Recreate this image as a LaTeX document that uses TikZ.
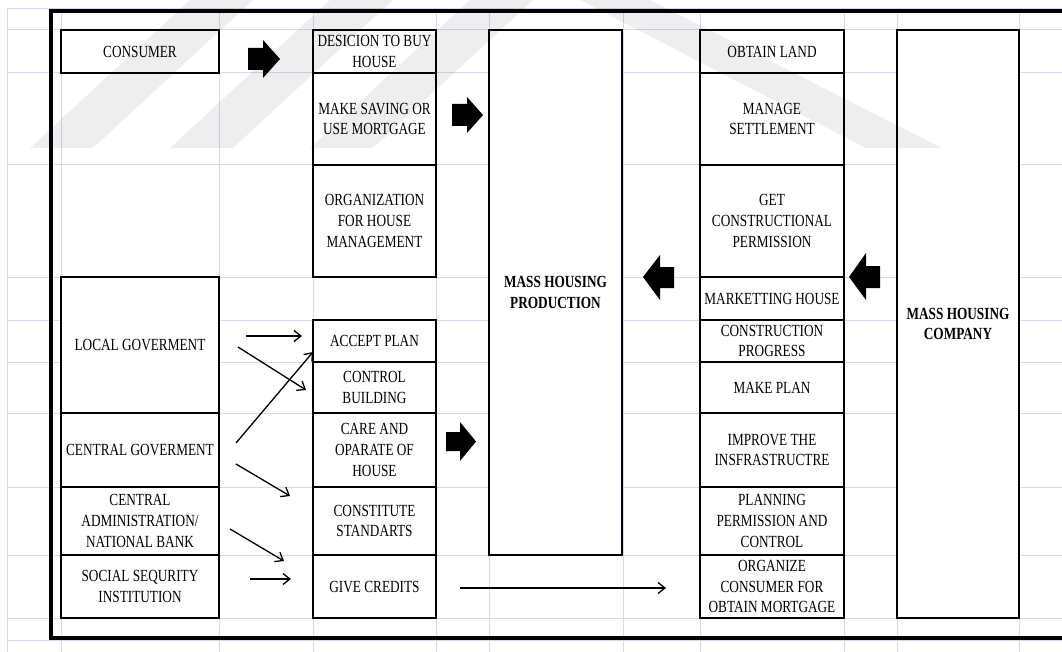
\documentclass[tikz,border=0pt]{standalone}
\usepackage{fontspec}
\setmainfont{Liberation Serif}[FakeStretch=0.78]
\usetikzlibrary{arrows.meta}
\definecolor{gridc}{RGB}{212,219,234}
\begin{document}
\begin{tikzpicture}[x=1pt,y=-1pt,
  box/.style={draw, line width=2pt, fill=white, align=center, inner sep=2pt,
    font=\fontsize{17}{20.7}\selectfont},
  bigbox/.style={box, font=\fontsize{17}{20.7}\selectfont\bfseries},
  gridline/.style={draw=gridc, line width=1pt},
  thinarrow/.style={line width=1.3pt, -{Straight Barb[length=7pt,width=11pt]}},
  framestyle/.style={line width=3.5pt},
  blk/.style={fill=black},
  wm/.style={fill=black, fill opacity=0.065}]

\useasboundingbox (0,0) rectangle (1062,652);
\fill[white] (0,0) rectangle (1062,652);

% spreadsheet grid
\foreach \x in {7,61,219,313,436,489,623,700,844,897,1019}
  \draw[gridline] (\x,9) -- (\x,652);
\foreach \y in {9,30,73,165,277,320,362,413,487,555,618,640}
  \draw[gridline] (7,\y) -- (1062,\y);

% frame
\draw[framestyle] (1062,11) -- (51,11) -- (51,638) -- (1062,638);

% left column
\node[box, minimum width=158pt, minimum height=43pt]  (consumer) at (140,51.5) {CONSUMER};
\node[box, minimum width=158pt, minimum height=136pt] (localgov) at (140,345) {LOCAL GOVERMENT};
\node[box, minimum width=158pt, minimum height=74pt]  (centralgov) at (140,450) {CENTRAL GOVERMENT};
\node[box, minimum width=158pt, minimum height=68pt]  (centraladm) at (140,521) {CENTRAL\\ADMINISTRATION/\\NATIONAL BANK};
\node[box, minimum width=158pt, minimum height=63pt]  (social) at (140,586.5) {SOCIAL SEQURITY\\INSTITUTION};

% middle column
\node[box, minimum width=123pt, minimum height=43pt]  (decision) at (374.5,51.5) {DESICION TO BUY\\HOUSE};
\node[box, minimum width=123pt, minimum height=92pt]  (saving) at (374.5,119) {MAKE SAVING OR\\USE MORTGAGE};
\node[box, minimum width=123pt, minimum height=112pt] (organization) at (374.5,221) {ORGANIZATION\\FOR HOUSE\\MANAGEMENT};
\node[box, minimum width=123pt, minimum height=42pt]  (accept) at (374.5,341) {ACCEPT PLAN};
\node[box, minimum width=123pt, minimum height=51pt]  (control) at (374.5,387.5) {CONTROL\\BUILDING};
\node[box, minimum width=123pt, minimum height=74pt]  (care) at (374.5,450) {CARE AND\\OPARATE OF\\HOUSE};
\node[box, minimum width=123pt, minimum height=68pt]  (constitute) at (374.5,521) {CONSTITUTE\\STANDARTS};
\node[box, minimum width=123pt, minimum height=63pt]  (credits) at (374.5,586.5) {GIVE CREDITS};

% production
\node[bigbox, minimum width=133pt, minimum height=525pt] (production) at (555.5,292.5) {MASS HOUSING\\PRODUCTION};

% right column
\node[box, minimum width=144pt, minimum height=43pt]  (obtain) at (772,51.5) {OBTAIN LAND};
\node[box, minimum width=144pt, minimum height=92pt]  (manage) at (772,119) {MANAGE\\SETTLEMENT};
\node[box, minimum width=144pt, minimum height=112pt] (getperm) at (772,221) {GET\\CONSTRUCTIONAL\\PERMISSION};
\node[box, minimum width=144pt, minimum height=43pt]  (marketing) at (772,298.5) {MARKETTING HOUSE};
\node[box, minimum width=144pt, minimum height=42pt]  (progress) at (772,341) {CONSTRUCTION\\PROGRESS};
\node[box, minimum width=144pt, minimum height=51pt]  (makeplan) at (772,387.5) {MAKE PLAN};
\node[box, minimum width=144pt, minimum height=74pt]  (improve) at (772,450) {IMPROVE THE\\INSFRASTRUCTRE};
\node[box, minimum width=144pt, minimum height=68pt]  (planning) at (772,521) {PLANNING\\PERMISSION AND\\CONTROL};
\node[box, minimum width=144pt, minimum height=63pt]  (organize) at (772,586.5) {ORGANIZE\\CONSUMER FOR\\OBTAIN MORTGAGE};

% company
\node[bigbox, minimum width=122pt, minimum height=588pt] (company) at (958,324) {MASS HOUSING\\COMPANY};

% block arrows
\fill[blk] (248,48) -- (263,48) -- (263,40) -- (280,59) -- (263,78) -- (263,70) -- (248,70) -- cycle;
\fill[blk] (452,104) -- (467,104) -- (467,97) -- (483,115) -- (467,133) -- (467,126) -- (452,126) -- cycle;
\fill[blk] (446,432) -- (460,432) -- (460,422) -- (476,441.5) -- (460,461) -- (460,451) -- (446,451) -- cycle;
\fill[blk] (674,267) -- (660,267) -- (660,255) -- (643,277) -- (660,300) -- (660,288) -- (674,288) -- cycle;
\fill[blk] (880,266) -- (866,266) -- (866,253) -- (849,277) -- (866,300) -- (866,288) -- (880,288) -- cycle;

% thin arrows
\coordinate (t1a) at (246,336); \coordinate (t1b) at (302,336);
\coordinate (t2a) at (238,347); \coordinate (t2b) at (306,390);
\coordinate (t3a) at (236,443); \coordinate (t3b) at (313,352);
\coordinate (t4a) at (236,464); \coordinate (t4b) at (290,496);
\coordinate (t5a) at (230,529); \coordinate (t5b) at (284,561);
\coordinate (t6a) at (250,579); \coordinate (t6b) at (291,579);
\coordinate (t7a) at (460,588); \coordinate (t7b) at (666,588);
\draw[thinarrow] (t1a) -- (t1b);
\draw[thinarrow] (t2a) -- (t2b);
\draw[thinarrow] (t3a) -- (t3b);
\draw[thinarrow] (t4a) -- (t4b);
\draw[thinarrow] (t5a) -- (t5b);
\draw[thinarrow] (t6a) -- (t6b);
\draw[thinarrow] (t7a) -- (t7b);

% watermark
\fill[wm] (30,148) -- (93,148) -- (253,0) -- (190,0) -- cycle;
\fill[wm] (170,148) -- (233,148) -- (393,0) -- (330,0) -- cycle;
\fill[wm] (310,148) -- (373,148) -- (533,0) -- (470,0) -- cycle;
\fill[wm] (580,0) -- (650,0) -- (942,148) -- (866,148) -- cycle;
\end{tikzpicture}
\end{document}
